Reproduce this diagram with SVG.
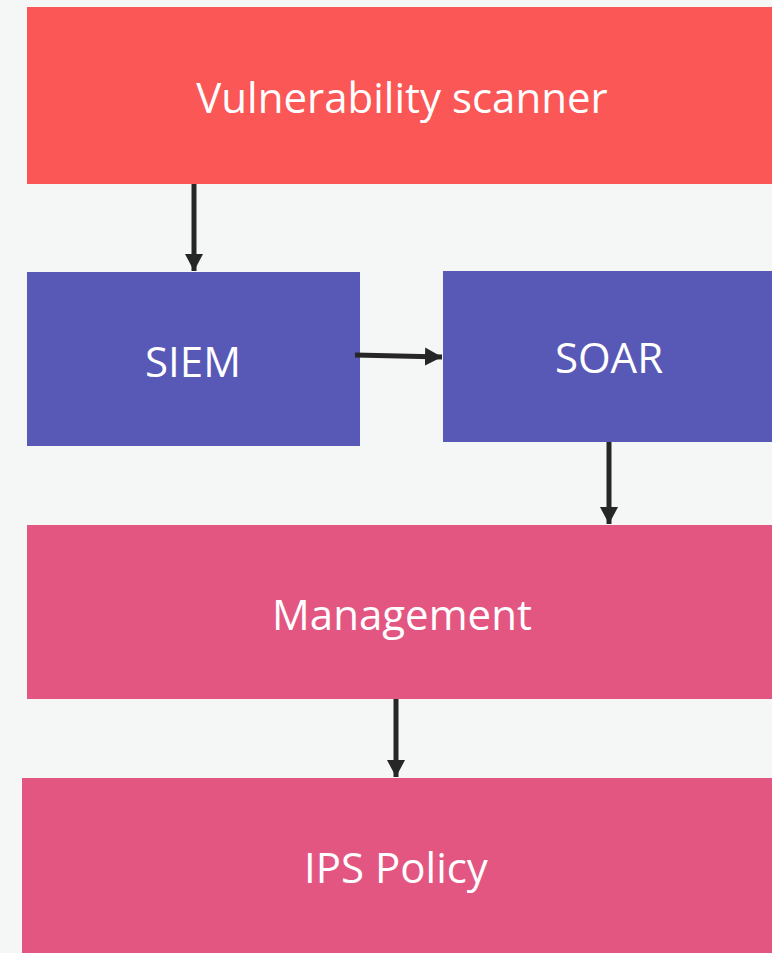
<svg xmlns="http://www.w3.org/2000/svg" width="772" height="953" viewBox="0 0 772 953">
<defs>
<style>
.lbl{font-family:"Open Sans","Liberation Sans",sans-serif;font-size:42px;fill:#ffffff;text-anchor:middle}
.edge{stroke:#262626;stroke-width:5;fill:none}
</style>
<marker id="ah" markerUnits="userSpaceOnUse" markerWidth="20" markerHeight="20" viewBox="0 0 20 20" refX="17" refY="10" orient="auto">
<path d="M0,1 L17,10 L0,19 Z" fill="#262626"/>
</marker>
</defs>
<rect width="772" height="953" fill="#f5f7f6"/>
<g id="vuln"><rect x="27" y="7" width="750" height="177" fill="#fb5756"/><text class="lbl" x="402" y="113">Vulnerability scanner</text></g>
<g id="siem"><rect x="27" y="272" width="333" height="174" fill="#5858b6"/><text class="lbl" x="193" y="377">SIEM</text></g>
<g id="soar"><rect x="443" y="271" width="334" height="171" fill="#5858b6"/><text class="lbl" x="609" y="373">SOAR</text></g>
<g id="mgmt"><rect x="27" y="525" width="750" height="174" fill="#e45682"/><text class="lbl" x="402" y="630">Management</text></g>
<g id="ips"><rect x="22" y="778" width="755" height="180" fill="#e45682"/><text class="lbl" x="396" y="883">IPS Policy</text></g>
<g id="connectors">
<line class="edge" x1="194" y1="184" x2="194" y2="271" marker-end="url(#ah)"/>
<line class="edge" x1="355" y1="355" x2="442" y2="357" marker-end="url(#ah)"/>
<line class="edge" x1="609" y1="442" x2="609" y2="524" marker-end="url(#ah)"/>
<line class="edge" x1="396" y1="699" x2="396" y2="777" marker-end="url(#ah)"/>
</g>
</svg>
